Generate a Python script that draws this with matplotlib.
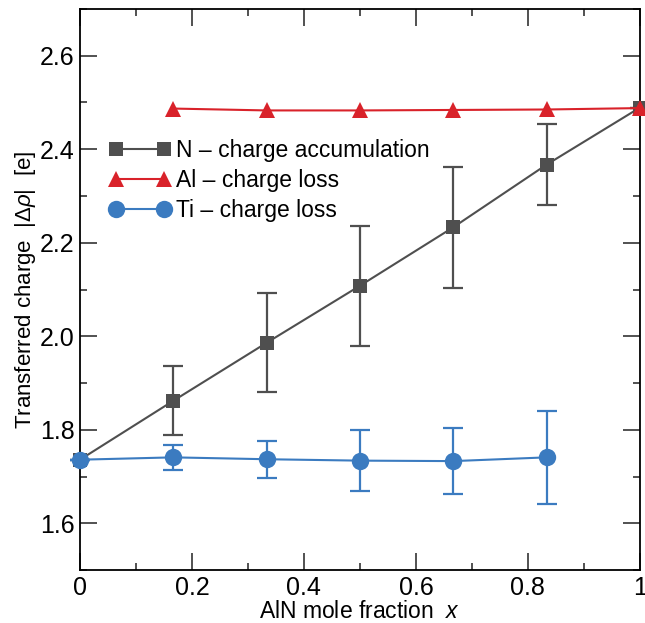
import numpy as np
import matplotlib
matplotlib.use("Agg")
import matplotlib.pyplot as plt
from matplotlib.ticker import MultipleLocator, FixedLocator

plt.rcParams['font.family'] = ['Liberation Sans', 'DejaVu Sans']
plt.rcParams['mathtext.fontset'] = 'custom'
plt.rcParams['mathtext.rm'] = 'Liberation Sans'
plt.rcParams['mathtext.it'] = 'Liberation Sans:italic'

# AlN mole fraction
x = [0, 1/6, 1/3, 1/2, 2/3, 5/6, 1]

# N - charge accumulation
n_charge = [1.736, 1.862, 1.986, 2.108, 2.233, 2.367, 2.489]
n_err = [0.0, 0.074, 0.106, 0.128, 0.130, 0.086, 0.0]

# Al - charge loss (starts at x = 1/6)
x_al = x[1:]
al_charge = [2.487, 2.483, 2.483, 2.484, 2.485, 2.488]

# Ti - charge loss (up to x = 5/6)
x_ti = x[:-1]
ti_charge = [1.736, 1.741, 1.737, 1.734, 1.733, 1.741]
ti_err = [0.0, 0.027, 0.040, 0.065, 0.071, 0.100]

c_n = '#4f4f4f'
c_al = '#d9222a'
c_ti = '#3b7bc0'

fig = plt.figure(figsize=(6.45, 6.23), dpi=100)
ax = fig.add_axes([0.124, 0.085, 0.868, 0.9006])

ax.errorbar(x, n_charge, yerr=n_err, fmt='none', ecolor=c_n, elinewidth=1.6,
            capsize=7, capthick=1.6, clip_on=False, zorder=2)
ax.plot(x, n_charge, '-s', color=c_n, lw=1.5, ms=10.5, mew=0,
        label='N \u2013 charge accumulation', clip_on=False, zorder=3)

ax.plot(x_al, al_charge, '-^', color=c_al, lw=1.5, ms=12, mew=0,
        label='Al \u2013 charge loss', clip_on=False, zorder=4)

ax.errorbar(x_ti, ti_charge, yerr=ti_err, fmt='none', ecolor=c_ti,
            elinewidth=1.6, capsize=7, capthick=1.6, clip_on=False, zorder=4)
ax.plot(x_ti, ti_charge, '-o', color=c_ti, lw=1.5, ms=12.5, mew=0,
        label='Ti \u2013 charge loss', clip_on=False, zorder=5)

ax.set_xlim(0, 1)
ax.set_ylim(1.5, 2.7)

ax.xaxis.set_major_locator(FixedLocator([0, 0.2, 0.4, 0.6, 0.8, 1.0]))
ax.set_xticklabels(['0', '0.2', '0.4', '0.6', '0.8', '1'])
ax.xaxis.set_minor_locator(MultipleLocator(0.1))
ax.yaxis.set_major_locator(FixedLocator([1.6, 1.8, 2.0, 2.2, 2.4, 2.6]))
ax.set_yticklabels(['1.6', '1.8', '2.0', '2.2', '2.4', '2.6'])
ax.yaxis.set_minor_locator(MultipleLocator(0.1))

ax.tick_params(which='both', direction='in', top=True, right=True,
               labelsize=18, width=1.2, color='#333333')
ax.tick_params(which='major', length=12, pad=4)
ax.tick_params(which='minor', length=5)
for s in ax.spines.values():
    s.set_linewidth(1.3)

ax.set_xlabel(r'AlN mole fraction  $x$', fontsize=16.5, labelpad=0)
ax.set_ylabel(r'Transferred charge  $|\Delta\rho|$  [e]', fontsize=16,
              labelpad=1)

ax.legend(loc='upper left', bbox_to_anchor=(0.035, 0.785), frameon=False,
          fontsize=16.5, numpoints=2, handlelength=2.7, handletextpad=0.25,
          labelspacing=0.32, borderaxespad=0)

fig.savefig('out.png', dpi=100)
